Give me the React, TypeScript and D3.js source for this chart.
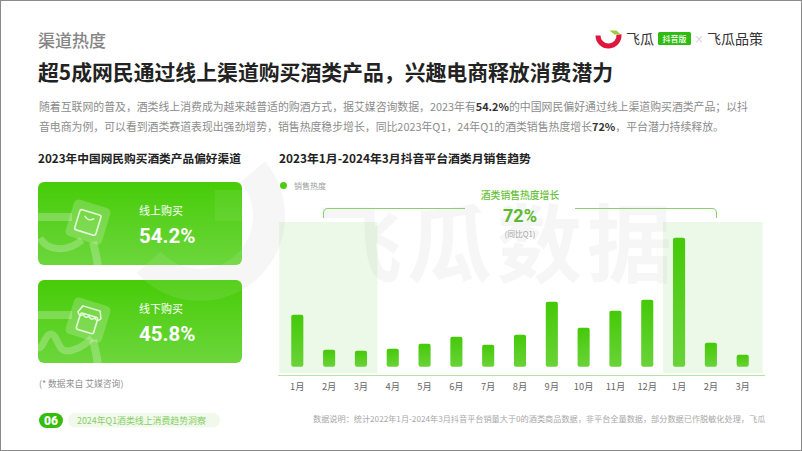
import React, { useEffect, useRef } from "react";
import * as d3 from "d3";

const months = ["1月", "2月", "3月", "4月", "5月", "6月", "7月", "8月", "9月", "10月", "11月", "12月", "1月", "2月", "3月"];
const heatValues = [52, 17, 16, 18, 23, 30, 22, 32, 65, 39, 56, 67, 129, 24, 12];
const channels = ["线上购买", "线下购买"];
const channelShares = ["54.2%", "45.8%"];
const highlightRanges = [[0, 2], [12, 14]];

const FONT = '"Noto Sans CJK SC", "Noto Sans", sans-serif';
const NUM_FONT = 'Roboto, "Noto Sans CJK SC", sans-serif';

export default function App() {
  const svgRef = useRef<SVGSVGElement>(null);

  useEffect(() => {
    if (!svgRef.current) return;
    d3.select(svgRef.current).selectAll("*").remove();

    const svg = d3.select(svgRef.current).attr("width", 802).attr("height", 451);
    const defs = svg.append("defs");

    const gradient = (id: string, top: string, bottom: string) => {
      const g = defs.append("linearGradient").attr("id", id).attr("x1", 0).attr("y1", 0).attr("x2", 0).attr("y2", 1);
      g.append("stop").attr("offset", "0%").attr("stop-color", top);
      g.append("stop").attr("offset", "100%").attr("stop-color", bottom);
    };
    gradient("cardFill", "#47cc08", "#6cd63c");
    gradient("barFill", "#45c908", "#69d338");

    const text = (
      parent: any,
      x: number,
      y: number,
      str: string,
      size: number,
      fill: string,
      weight = 400,
      anchor = "start",
      family = FONT,
    ) =>
      parent
        .append("text")
        .attr("x", x)
        .attr("y", y)
        .attr("text-anchor", anchor)
        .style("font-family", family)
        .style("font-size", `${size}px`)
        .style("font-weight", weight)
        .style("fill", fill)
        .text(str);

    // page frame
    svg.append("rect").attr("width", 802).attr("height", 451).attr("fill", "#fff");
    svg
      .append("rect")
      .attr("x", 0.5)
      .attr("y", 0.5)
      .attr("width", 801)
      .attr("height", 450)
      .attr("fill", "none")
      .attr("stroke", "#8a8a8a");

    // watermark
    const ringPath =
      d3
        .arc()
        .innerRadius(53)
        .outerRadius(85)
        .startAngle((50 * Math.PI) / 180)
        .endAngle((228 * Math.PI) / 180)({} as any) || "";
    svg
      .append("path")
      .attr("d", ringPath)
      .attr("transform", "translate(200,216)")
      .attr("fill", "#f6f6f6");
    const wm = text(svg, 317, 276, "飞瓜数据", 85, "#f6f6f6", 700);
    wm.style("letter-spacing", "5px");

    // header
    text(svg, 38, 47, "渠道热度", 17, "#858585", 500);
    text(svg, 38, 80, "超5成网民通过线上渠道购买酒类产品，兴趣电商释放消费潜力", 20.85, "#222", 700);

    const para = (y: number, parts: [string, boolean][]) => {
      const t = text(svg, 39, y, "", 10.87, "#8c8c8c");
      parts.forEach(([s, bold]) => {
        t.append("tspan")
          .style("font-weight", bold ? 700 : 400)
          .style("fill", bold ? "#333" : "#8c8c8c")
          .text(s);
      });
    };
    para(111, [
      ["随着互联网的普及，酒类线上消费成为越来越普适的购酒方式，据艾媒咨询数据，2023年有", false],
      ["54.2%", true],
      ["的中国网民偏好通过线上渠道购买酒类产品；以抖", false],
    ]);
    para(131, [
      ["音电商为例，可以看到酒类赛道表现出强劲增势，销售热度稳步增长，同比2023年Q1，24年Q1的酒类销售热度增长", false],
      ["72%", true],
      ["，平台潜力持续释放。", false],
    ]);

    // brand logo
    const logo = svg.append("g").attr("transform", "translate(608.5,35.5)");
    logo
      .append("path")
      .attr("d", d3.arc().innerRadius(8).outerRadius(13).startAngle(Math.PI * 0.47).endAngle(Math.PI * 1.5)({} as any) || "")
      .attr("fill", "#e0163f");
    logo
      .append("path")
      .attr("d", "M1,-5 L8,-5 L12,-1 L6,-1 Z")
      .attr("fill", "#9ccb3b");
    text(svg, 626, 44, "飞瓜", 14, "#333");
    svg.append("rect").attr("x", 658).attr("y", 32).attr("width", 33).attr("height", 13).attr("rx", 1.5).attr("fill", "#2fbb12");
    text(svg, 674.5, 42, "抖音版", 8, "#fff", 500, "middle");
    text(svg, 699, 43, "×", 10, "#ccc", 400, "middle");
    text(svg, 707, 44, "飞瓜品策", 14, "#333");

    // left panel
    text(svg, 38, 163, "2023年中国网民购买酒类产品偏好渠道", 11.7, "#222", 700);

    const cardTops = [182, 280];
    channels.forEach((name, i) => {
      const top = cardTops[i];
      const clipId = `card-clip-${i}`;
      defs
        .append("clipPath")
        .attr("id", clipId)
        .append("rect")
        .attr("x", 38)
        .attr("y", top)
        .attr("width", 204)
        .attr("height", 83)
        .attr("rx", 6);
      const card = svg.append("g");
      card.append("rect").attr("x", 38).attr("y", top).attr("width", 204).attr("height", 83).attr("rx", 6).attr("fill", "url(#cardFill)");
      const inner = card.append("g").attr("clip-path", `url(#${clipId})`);

      // pale ring showing through the card
      inner
        .append("path")
        .attr("d", ringPath)
        .attr("transform", "translate(200,216)")
        .attr("fill", "#fff")
        .attr("opacity", 0.09);
      if (i === 0) {
        inner.append("rect").attr("x", 215).attr("y", 190).attr("width", 27).attr("height", 31).attr("fill", "#fff").attr("opacity", 0.07);
      }

      // ribbon lines behind the icon
      inner
        .append("path")
        .attr("d", `M38,${top + 35} L72,${top + 35} M93,${top + 60} C95,${top + 68} 97,${top + 76} 98,${top + 85}`)
        .attr("fill", "none")
        .attr("stroke", "#fff")
        .attr("stroke-width", 8)
        .attr("opacity", 0.24);
      inner
        .append("path")
        .attr(
          "d",
          i === 0
            ? `M40,${top + 56} C48,${top + 70} 68,${top + 70} 82,${top + 58}`
            : `M38,${top + 68} C44,${top + 68} 45,${top + 54} 51,${top + 54} C57,${top + 54} 58,${top + 71} 66,${top + 71} C76,${top + 71} 84,${top + 66} 92,${top + 58}`,
        )
        .attr("fill", "none")
        .attr("stroke", "#fff")
        .attr("stroke-width", 7)
        .attr("opacity", 0.24);

      // tilted tile and icon
      const tile = card.append("g").attr("transform", `translate(88,${top + 40}) rotate(17)`);
      tile.append("rect").attr("x", -19).attr("y", -19).attr("width", 38).attr("height", 38).attr("rx", 5).attr("fill", "#fff").attr("opacity", 0.2);
      if (i === 0) {
        tile.append("rect").attr("x", -11).attr("y", -10).attr("width", 22).attr("height", 21).attr("rx", 2).attr("fill", "none").attr("stroke", "#e6f9dc").attr("stroke-width", 1.6);
        tile.append("path").attr("d", "M-5,-5 Q0,0 5,-5").attr("fill", "none").attr("stroke", "#e6f9dc").attr("stroke-width", 1.4);
      } else {
        tile.append("rect").attr("x", -9).attr("y", -5).attr("width", 18).attr("height", 17).attr("rx", 2).attr("fill", "none").attr("stroke", "#e6f9dc").attr("stroke-width", 1.6);
        tile.append("path").attr("d", "M-9,-12 L9,-12 L12,-5 Q9,0 6,-4 Q3,0 0,-4 Q-3,0 -6,-4 Q-9,0 -12,-5 Z").attr("fill", "none").attr("stroke", "#e6f9dc").attr("stroke-width", 1.5);
      }

      text(card, 139, top + 33, name, 11, "#fff");
      text(card, 139, top + 61, channelShares[i], 20.5, "#fff", 700, "start", NUM_FONT);
    });

    text(svg, 39, 387, "(* 数据来自 艾媒咨询)", 8.8, "#909090");

    // footer
    svg.append("rect").attr("x", 39).attr("y", 413).attr("width", 24).attr("height", 15).attr("rx", 7.5).attr("fill", "#35bd0c");
    text(svg, 51, 424.8, "06", 12, "#fff", 900, "middle", NUM_FONT);
    svg.append("rect").attr("x", 68).attr("y", 413).attr("width", 152).attr("height", 14.5).attr("rx", 7).attr("fill", "#f1f9ed");
    text(svg, 77, 423.5, "2024年Q1酒类线上消费趋势洞察", 8.9, "#86cf63");
    text(svg, 313, 422, "数据说明：统计2022年1月-2024年3月抖音平台销量大于0的酒类商品数据，非平台全量数据，部分数据已作脱敏化处理，飞瓜", 8.16, "#a8a8a8");

    // right panel
    text(svg, 279, 163, "2023年1月-2024年3月抖音平台酒类月销售趋势", 11.85, "#222", 700);
    svg.append("circle").attr("cx", 283.5).attr("cy", 185.5).attr("r", 3.5).attr("fill", "#50cb14");
    text(svg, 294, 188.5, "销售热度", 8, "#a0a0a0");

    const idx = months.map((_, i) => i);
    const x = d3.scaleBand<number>().domain(idx).range([281.4, 758.6]).paddingInner(0.62).paddingOuter(0.31);
    const y = d3.scaleLinear().domain([0, 130]).range([366.7, 236.7]);
    const center = (i: number) => (x(i) as number) + x.bandwidth() / 2;

    // the two shaded bands sit a little off-centre from their bars
    const bandPad = [[18, 16.5], [16, 20]];
    svg
      .append("g")
      .selectAll("rect")
      .data(highlightRanges)
      .enter()
      .append("rect")
      .attr("x", (d, i) => center(d[0]) - bandPad[i][0])
      .attr("y", 222)
      .attr("width", (d, i) => center(d[1]) - center(d[0]) + bandPad[i][0] + bandPad[i][1])
      .attr("height", 151)
      .attr("fill", "#4cc81a")
      .attr("opacity", 0.1);

    svg
      .append("g")
      .selectAll("rect")
      .data(heatValues)
      .enter()
      .append("rect")
      .attr("x", (_d, i) => x(i) as number)
      .attr("y", (d) => y(d))
      .attr("width", x.bandwidth())
      .attr("height", (d) => y(0) - y(d))
      .attr("rx", 2)
      .attr("fill", "url(#barFill)");

    const axis = d3
      .axisBottom(x)
      .tickSize(0)
      .tickPadding(8)
      .tickFormat((i) => months[i as number]);
    const axisG = svg.append("g").attr("transform", "translate(0,375)").call(axis as any);
    axisG
      .select(".domain")
      .attr("d", "M278,0.5H765")
      .attr("stroke", "#b5e3a0");
    axisG
      .selectAll("text")
      .style("font-family", FONT)
      .style("font-size", "9.3px")
      .style("fill", "#666");

    // growth bracket
    svg
      .append("path")
      .attr("d", "M323.5,218 V213 Q323.5,208.5 328,208.5 H465 M575,208.5 H712 Q716.5,208.5 716.5,213 V218")
      .attr("fill", "none")
      .attr("stroke", "#8ccf6e")
      .attr("stroke-width", 1);
    text(svg, 520, 198.5, "酒类销售热度增长", 9.8, "#68c238", 500, "middle");
    text(svg, 520, 222, "72%", 18, "#5cb82e", 700, "middle", NUM_FONT);
    text(svg, 520, 236.5, "(同比Q1)", 7.8, "#a8a8a8", 400, "middle");
  }, []);

  return <svg ref={svgRef} style={{ position: "absolute", left: 0, top: 0, display: "block" }} />;
}
